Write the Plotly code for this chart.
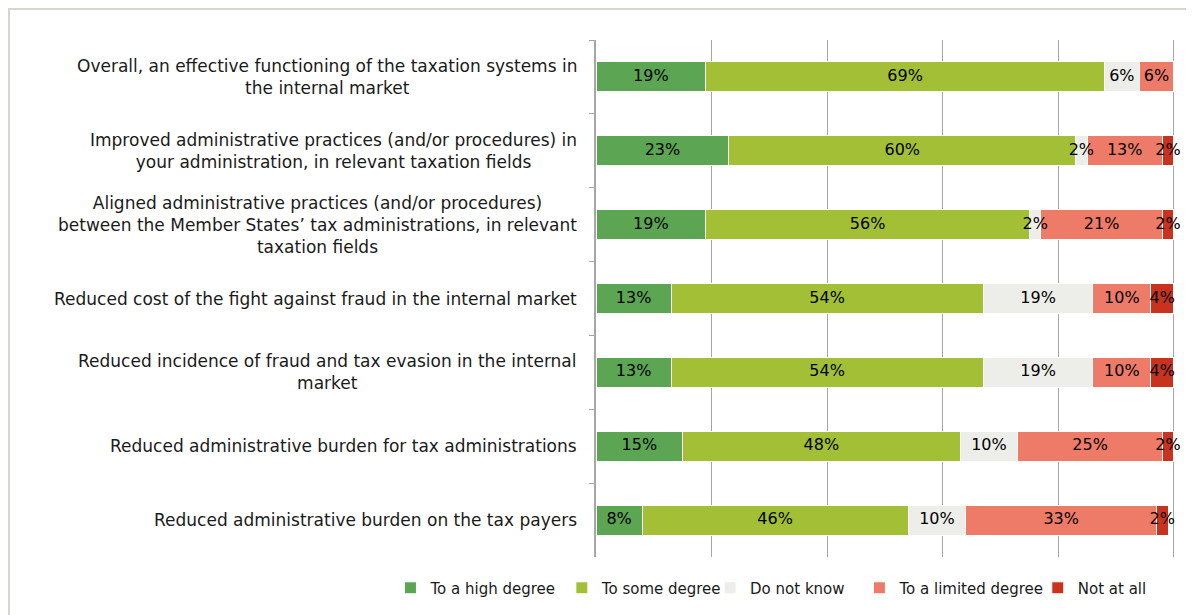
import plotly.graph_objects as go

categories = [
    "Overall, an effective functioning of the taxation systems in<br>the internal market",
    "Improved administrative practices (and/or procedures) in<br>your administration, in relevant taxation fields",
    "Aligned administrative practices (and/or procedures)<br>between the Member States\u2019 tax administrations, in relevant<br>taxation fields",
    "Reduced cost of the fight against fraud in the internal market",
    "Reduced incidence of fraud and tax evasion in the internal<br>market",
    "Reduced administrative burden for tax administrations",
    "Reduced administrative burden on the tax payers",
]
cat_keys = [f"c{i}" for i in range(len(categories))]

series_names = ["To a high degree", "To some degree", "Do not know", "To a limited degree", "Not at all"]
high = [19, 23, 19, 13, 13, 15, 8]
some = [69, 60, 56, 54, 54, 48, 46]
dont_know = [6, 2, 2, 19, 19, 10, 10]
limited = [6, 13, 21, 10, 10, 25, 33]
not_at_all = [0, 2, 2, 4, 4, 2, 2]
series_values = [high, some, dont_know, limited, not_at_all]
colors = ["#5BA553", "#A2BF35", "#EDEDE9", "#EE7B68", "#C8321E"]

FONT = "DejaVu Sans"
W, H = 1186, 607
ML, MR, MT, MB = 588, 19, 32, 57
PW, PH = W - ML - MR, H - MT - MB

legend_x = [-0.355, -0.059, 0.197, 0.455, 0.763]

fig = go.Figure()
for i, (name, vals, col) in enumerate(zip(series_names, series_values, colors)):
    fig.add_trace(go.Bar(
        y=cat_keys, x=vals, name=name, orientation="h",
        marker=dict(color=col, line=dict(color="white", width=1)),
        hoverinfo="name+x",
        legend="legend" if i == 0 else f"legend{i+1}",
    ))

# value labels drawn on top of all bars (centred in each segment)
base = [0] * len(cat_keys)
for name, vals in zip(series_names, series_values):
    mids = [b + v / 2 for b, v in zip(base, vals)]
    fig.add_trace(go.Scatter(
        x=mids, y=cat_keys, mode="text",
        text=[f"{v}%" if v > 0 else "" for v in vals],
        textposition="middle center",
        textfont=dict(family=FONT, size=16, color="black"),
        showlegend=False, hoverinfo="skip", cliponaxis=False,
    ))
    base = [b + v for b, v in zip(base, vals)]

annotations = []
for key, label in zip(cat_keys, categories):
    annotations.append(dict(
        x=0, xref="paper", y=key, yref="y", xanchor="right", yanchor="middle",
        xshift=-17, text=label, showarrow=False, align="center",
        font=dict(family=FONT, size=17, color="#1a1a1a"),
    ))

legends = {}
for i, lx in enumerate(legend_x):
    key = "legend" if i == 0 else f"legend{i+1}"
    legends[key] = dict(orientation="h", x=lx, xanchor="left", y=-0.058, yanchor="middle",
                        font=dict(family=FONT, size=15, color="#1a1a1a"),
                        bgcolor="rgba(0,0,0,0)", itemwidth=30)

fig.update_layout(
    barmode="stack",
    bargap=0.595,
    width=W, height=H,
    margin=dict(l=ML, r=MR, t=MT, b=MB),
    paper_bgcolor="white", plot_bgcolor="white",
    font=dict(family=FONT, size=15, color="#1a1a1a"),
    xaxis=dict(range=[0, 100.2], dtick=20, showticklabels=False, showgrid=True,
               gridcolor="#A6A6A6", gridwidth=1, zeroline=False, showline=False),
    yaxis=dict(autorange="reversed", showticklabels=False, showgrid=False,
               showline=True, linecolor="#A6A6A6", linewidth=2,
               ticks="outside", tickson="boundaries", ticklen=5, tickcolor="#A6A6A6"),
    annotations=annotations,
    shapes=[dict(type="rect", xref="paper", yref="paper",
                 x0=(1 - ML) / PW, x1=(W + 10 - ML) / PW,
                 y0=-(MB + 10) / PH, y1=1 + (MT - 1) / PH,
                 line=dict(color="#D6D6CC", width=2), layer="below")],
    showlegend=True,
    **legends,
)

fig.write_html("out.html")
